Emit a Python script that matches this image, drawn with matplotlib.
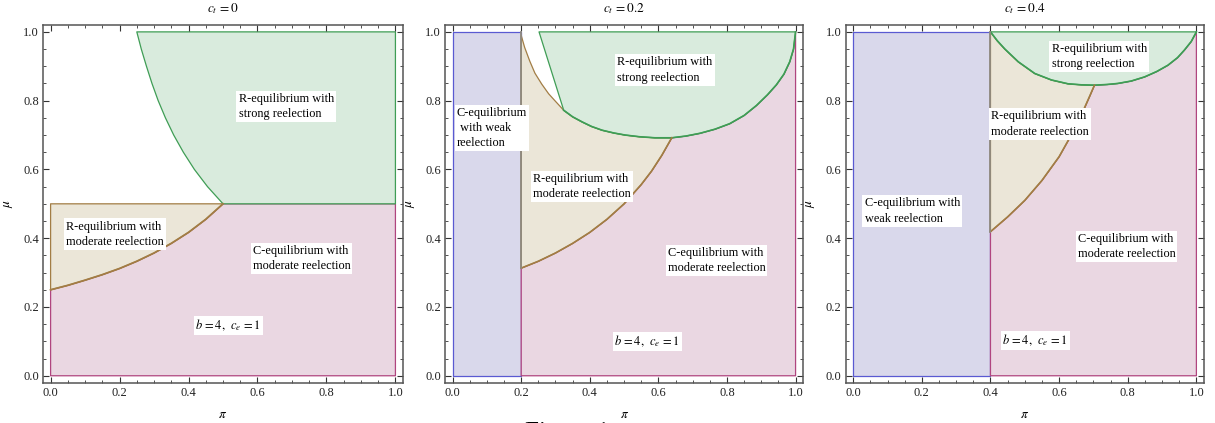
import numpy as np
import matplotlib
matplotlib.use("Agg")
import matplotlib.pyplot as plt
from matplotlib.ticker import MultipleLocator

plt.rcParams['font.family'] = ['Liberation Serif', 'DejaVu Serif']
plt.rcParams['mathtext.fontset'] = 'stix'

# values (pi, mu)
titles = [r"$c_t\,=0$", r"$c_t\,=0.2$", r"$c_t\,=0.4$"]
ct_values = [0.0, 0.2, 0.4]

# panel 1 (c_t = 0)
p1_green_x = [0.25, 0.263, 0.278, 0.294, 0.312, 0.333, 0.357, 0.385, 0.417, 0.455, 0.5]
p1_green_y = [1.0, 0.95, 0.9, 0.85, 0.8, 0.75, 0.7, 0.65, 0.6, 0.55, 0.5]
p1_tan_x = [0.0, 0.05, 0.1, 0.15, 0.2, 0.25, 0.3, 0.35, 0.4, 0.45, 0.5]
p1_tan_y = [0.25, 0.263, 0.278, 0.294, 0.312, 0.333, 0.357, 0.385, 0.417, 0.455, 0.5]

# panel 2 (c_t = 0.2)
p2_tan_up_x = [0.2, 0.21, 0.225, 0.24, 0.26, 0.28, 0.3, 0.324]
p2_tan_up_y = [0.99, 0.955, 0.915, 0.88, 0.848, 0.82, 0.798, 0.772]
p2_green_x = [0.324, 0.35, 0.378, 0.405, 0.436, 0.47, 0.503, 0.545, 0.59, 0.639, 0.68,
              0.721, 0.765, 0.808, 0.85, 0.886, 0.918, 0.944, 0.966, 0.983, 0.994, 1.0]
p2_green_y = [0.772, 0.753, 0.738, 0.725, 0.714, 0.706, 0.7, 0.695, 0.692, 0.692, 0.697,
              0.705, 0.717, 0.733, 0.757, 0.786, 0.817, 0.846, 0.877, 0.913, 0.95, 1.0]
p2_green_left_x = [0.252, 0.324]
p2_green_left_y = [1.0, 0.772]
p2_tan_low_x = [0.2, 0.25, 0.3, 0.35, 0.4, 0.45, 0.5, 0.55, 0.58, 0.61, 0.639]
p2_tan_low_y = [0.313, 0.333, 0.357, 0.385, 0.417, 0.455, 0.5, 0.556, 0.595, 0.641, 0.692]

# panel 3 (c_t = 0.4)
p3_green_x = [0.4, 0.42, 0.442, 0.481, 0.529, 0.578, 0.626, 0.665, 0.703, 0.74, 0.771,
              0.81, 0.849, 0.885, 0.917, 0.945, 0.965, 0.985, 1.0]
p3_green_y = [1.0, 0.974, 0.95, 0.913, 0.879, 0.86, 0.849, 0.846, 0.845, 0.847, 0.85,
              0.857, 0.869, 0.885, 0.903, 0.925, 0.947, 0.972, 1.0]
p3_tan_low_x = [0.4, 0.45, 0.5, 0.55, 0.6, 0.64, 0.67, 0.69, 0.703]
p3_tan_low_y = [0.419, 0.462, 0.51, 0.568, 0.637, 0.708, 0.77, 0.815, 0.845]

labels = [
    [("R-equilibrium with\nstrong reelection", 0.545, 0.784),
     ("R-equilibrium with\nmoderate reelection", 0.044, 0.412),
     ("C-equilibrium with\nmoderate reelection", 0.586, 0.341)],
    [("C-equilibrium\n with weak\nreelection", 0.012, 0.72),
     ("R-equilibrium with\nmoderate reelection", 0.235, 0.55),
     ("R-equilibrium with\nstrong reelection", 0.48, 0.889),
     ("C-equilibrium with\nmoderate reelection", 0.627, 0.336)],
    [("R-equilibrium with\nstrong reelection", 0.578, 0.929),
     ("R-equilibrium with\nmoderate reelection", 0.401, 0.732),
     ("C-equilibrium with\nweak reelection", 0.033, 0.479),
     ("C-equilibrium with\nmoderate reelection", 0.654, 0.375)],
]
param_label = r"$b\,=4,\;\, c_e\,=1$"
param_pos = [(0.42, 0.147), (0.471, 0.1), (0.434, 0.102)]

green_fc, green_ec = "#d9ebdd", "#3f9d55"
pink_fc, pink_ec = "#ead7e2", "#b0457f"
tan_fc, tan_ec = "#ebe6d8", "#a27d45"
blue_fc, blue_ec = "#d9d8eb", "#5a5ad2"

fig = plt.figure(figsize=(12.15, 4.23), dpi=100)
lefts = [0.0354, 0.3663, 0.696]
widths = [0.2963, 0.2947, 0.2949]
axes = [fig.add_axes([l, 0.0946, w, 0.8463]) for l, w in zip(lefts, widths)]

def region(ax, xs, ys, fc, ec, lw=0.9):
    ax.fill(xs, ys, facecolor=fc, edgecolor=ec, lw=lw, joinstyle='round')

# panel 1
ax = axes[0]
gx, gy = np.array(p1_green_x), np.array(p1_green_y)
tx, ty = np.array(p1_tan_x), np.array(p1_tan_y)
region(ax, np.r_[0, 1, 1, 0.5, tx[::-1]], np.r_[0, 0, 0.5, 0.5, ty[::-1]], pink_fc, pink_ec)
region(ax, np.r_[tx, 0], np.r_[ty, 0.5], tan_fc, tan_ec)
region(ax, np.r_[0.5, 1, 1, gx], np.r_[0.5, 0.5, 1, gy], green_fc, green_ec)
ax.plot(tx, ty, color=tan_ec, lw=1.3)

# panel 2
ax = axes[1]
ct = ct_values[1]
gx, gy = np.array(p2_green_x), np.array(p2_green_y)
tx, ty = np.array(p2_tan_low_x), np.array(p2_tan_low_y)
ux, uy = np.array(p2_tan_up_x), np.array(p2_tan_up_y)
left = gx <= tx[-1]
right = gx >= tx[-1]
region(ax, [0, ct, ct, 0], [0, 0, 1, 1], blue_fc, blue_ec)
region(ax, np.r_[ct, 1, gx[right][::-1], tx[::-1]], np.r_[0, 0, gy[right][::-1], ty[::-1]], pink_fc, pink_ec)
region(ax, np.r_[tx, gx[left][::-1], ux[::-1]], np.r_[ty, gy[left][::-1], uy[::-1]], tan_fc, tan_ec)
region(ax, np.r_[p2_green_left_x[0], gx[::-1]], np.r_[1.0, gy[::-1]], green_fc, green_ec)
ax.plot(gx, gy, color=green_ec, lw=1.2)
ax.plot(tx, ty, color=tan_ec, lw=1.2)
ax.plot([ct, ct], [ty[0], 1], color="#8f8a80", lw=1.3)

# panel 3
ax = axes[2]
ct = ct_values[2]
gx, gy = np.array(p3_green_x), np.array(p3_green_y)
tx, ty = np.array(p3_tan_low_x), np.array(p3_tan_low_y)
left = gx <= tx[-1]
right = gx >= tx[-1]
region(ax, [0, ct, ct, 0], [0, 0, 1, 1], blue_fc, blue_ec)
region(ax, np.r_[ct, 1, gx[right][::-1], tx[::-1]], np.r_[0, 0, gy[right][::-1], ty[::-1]], pink_fc, pink_ec)
region(ax, np.r_[tx, gx[left][::-1]], np.r_[ty, gy[left][::-1]], tan_fc, tan_ec)
region(ax, gx, gy, green_fc, green_ec)
ax.plot(gx, gy, color=green_ec, lw=1.2)
ax.plot(tx, ty, color=tan_ec, lw=1.2)
ax.plot([ct, ct], [ty[0], 1], color="#8f8a80", lw=1.3)

for i, ax in enumerate(axes):
    ax.set_xlim(-0.022, 1.022)
    ax.set_ylim(-0.021, 1.02)
    ax.xaxis.set_major_locator(MultipleLocator(0.2))
    ax.yaxis.set_major_locator(MultipleLocator(0.2))
    ax.xaxis.set_minor_locator(MultipleLocator(0.05))
    ax.yaxis.set_minor_locator(MultipleLocator(0.05))
    ax.xaxis.set_major_formatter(plt.FuncFormatter(lambda v, p: f"{v:.1f}"))
    ax.yaxis.set_major_formatter(plt.FuncFormatter(lambda v, p: f"{v:.1f}"))
    ax.tick_params(which='both', direction='in', top=True, right=True,
                   color='#333333', labelsize=9, labelcolor='#222222', pad=3)
    ax.tick_params(which='major', length=4, width=0.8)
    ax.tick_params(which='minor', length=2.3, width=0.6)
    for s in ax.spines.values():
        s.set_color('#555555')
        s.set_linewidth(1.1)
    ax.set_title(titles[i], fontsize=9.5, pad=9)
    ax.set_xlabel(r"$\pi$", fontsize=9.5, labelpad=7)
    ax.set_ylabel(r"$\mu$", fontsize=9.5, labelpad=6)
    for txt, x, y in labels[i]:
        ax.text(x, y, txt, fontsize=8.8, ha='left', va='center', linespacing=1.35,
                bbox=dict(facecolor='white', edgecolor='none', pad=1.5), zorder=5)
    px, py = param_pos[i]
    ax.text(px, py, param_label, fontsize=9, ha='left', va='center',
            bbox=dict(facecolor='white', edgecolor='none', pad=1.2), zorder=5)

# caption cut off at the bottom edge, as in the source page
fig.text(0.432, 0.003, "Figure 1", fontsize=18, ha='left', va='top')

fig.savefig("out.png", dpi=100)
